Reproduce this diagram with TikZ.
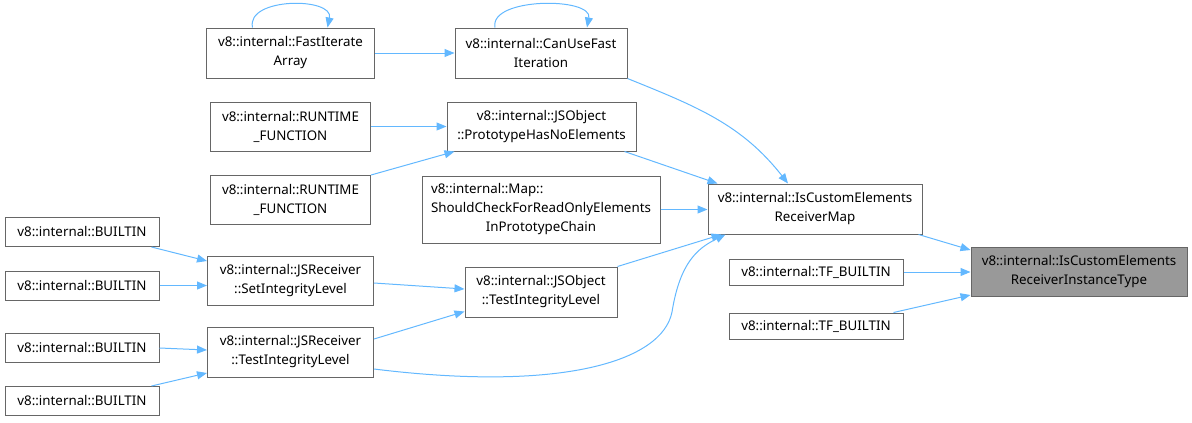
\documentclass[tikz,border=0pt]{standalone}
\usepackage{fontspec}
\setmainfont{Noto Sans}
\usetikzlibrary{arrows.meta, calc}
\definecolor{fnline}{HTML}{666666}
\definecolor{fnfill}{HTML}{FFFFFF}
\definecolor{curfill}{HTML}{999999}
\definecolor{callline}{HTML}{63B8FF}
\tikzset{
  fn/.style={
    draw=fnline,
    fill=fnfill,
    align=center,
    font=\fontsize{10}{14.25}\selectfont,
    inner sep=0pt,
    line width=0.75pt,
  },
  cur/.style={fn, fill=curfill},
  arr/.style={-{Triangle[length=7.5pt, width=6pt]}, draw=callline, line width=0.75pt},
}
% [style]{name}{x,y}{width}{height}{text}, sizes in px
\newcommand{\fnnode}[6][fn]{%
  \node[#1, minimum width=#4*0.75pt, minimum height=#5*0.75pt] (#2) at (#3) {#6}%
}

\begin{document}
\begin{tikzpicture}[x=0.75pt, y=-0.75pt]
\useasboundingbox (0,0) rectangle (1192,422);

% Column 1: builtins
\fnnode{b1}{82,232}{154}{29}{v8::internal::BUILTIN};
\fnnode{b2}{82,285.5}{154}{29}{v8::internal::BUILTIN};
\fnnode{b3}{82,348}{154}{29}{v8::internal::BUILTIN};
\fnnode{b4}{82,401}{154}{29}{v8::internal::BUILTIN};

% Column 2
\fnnode{fastiter}{290.5,53}{168}{50}{v8::internal::FastIterate\\Array};
\fnnode{rt1}{290.5,126.5}{160}{49}{v8::internal::RUNTIME\\\_FUNCTION};
\fnnode{rt2}{290.5,200}{160}{49}{v8::internal::RUNTIME\\\_FUNCTION};
\fnnode{setint}{290.5,281}{166}{49}{v8::internal::JSReceiver\\::SetIntegrityLevel};
\fnnode{recvtest}{290.5,352}{166}{50}{v8::internal::JSReceiver\\::TestIntegrityLevel};

% Column 3
\fnnode{canuse}{541,53}{172}{50}{v8::internal::CanUseFast\\Iteration};
\fnnode{protonoel}{541.5,126.5}{189}{49}{v8::internal::JSObject\\::PrototypeHasNoElements};
\fnnode{mapcheck}{541,209.5}{238}{67}{\rlap{v8::internal::Map::}\phantom{ShouldCheckForReadOnlyElements}\\ShouldCheckForReadOnlyElements\\InPrototypeChain};
\fnnode{objtest}{541,292}{152}{50}{v8::internal::JSObject\\::TestIntegrityLevel};

% Column 4
\fnnode{custmap}{815,209}{214}{50}{v8::internal::IsCustomElements\\ReceiverMap};
\fnnode{tf1}{816,272}{174}{26}{v8::internal::TF\_BUILTIN};
\fnnode{tf2}{816,326}{174}{26}{v8::internal::TF\_BUILTIN};

% Target
\fnnode[cur]{insttype}{1079,272}{216}{49}{v8::internal::IsCustomElements\\ReceiverInstanceType};

% --- Call arrows -------------------------------------------------------
% self loops
\draw[arr] ($(fastiter.north)+(-38,0)$) .. controls (246,-3) and (334,-3) .. ($(fastiter.north)+(37,0)$);
\draw[arr] ($(canuse.north)+(-46,0)$) .. controls (489,-3) and (593,-3) .. ($(canuse.north)+(46,0)$);

\draw[arr] (fastiter.east) -- (canuse.west);
\draw[arr] (canuse.south east) to[out=-22, in=128] ($(custmap.north)+(-27,0)$);
\draw[arr] (rt1.east) -- (rt1.east -| protonoel.west);
\draw[arr] (rt2.north east) -- ($(protonoel.south west)+(8,0)$);
\draw[arr] ($(protonoel.south east)+(-12,0)$) -- ($(custmap.north west)+(10,0)$);
\draw[arr] (mapcheck.east) -- (mapcheck.east -| custmap.west);
\draw[arr] (objtest.north east) -- ($(custmap.south west)+(14,0)$);
\draw[arr] ($(recvtest.east)+(0,17)$) .. controls (560,392) and (662,362) .. (672,312)
  .. controls (680,262) and (698,248) .. ($(custmap.south west)+(18,0)$);

% builtins into JSReceiver
\draw[arr] ($(b1.south east)+(-8,0)$) -- ($(setint.west)+(0,-20)$);
\draw[arr] (b2.east) -- (b2.east -| setint.west);
\draw[arr] (b3.east) -- ($(recvtest.west)+(0,-2)$);
\draw[arr] ($(b4.north east)+(-8,0)$) -- ($(recvtest.west)+(0,21)$);

% JSReceiver into JSObject
\draw[arr] ($(setint.east)+(0,2)$) -- ($(objtest.west)+(0,-3)$);
\draw[arr] ($(recvtest.east)+(0,-13)$) -- ($(objtest.south west)+(0,-6)$);

% into target
\draw[arr] ($(custmap.south east)+(-4,0)$) -- ($(insttype.north west)+(0,3)$);
\draw[arr] (tf1.east) -- (tf1.east -| insttype.west);
\draw[arr] ($(tf2.north east)+(-10,0)$) -- ($(insttype.south west)+(0,-2)$);

\end{tikzpicture}
\end{document}
